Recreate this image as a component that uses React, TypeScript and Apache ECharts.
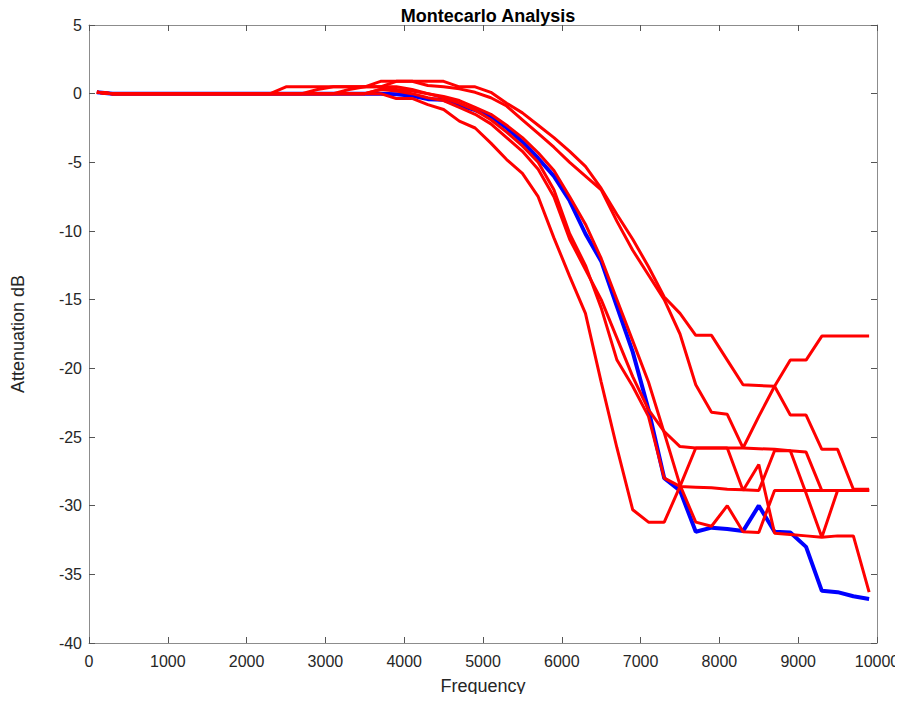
import React, { useEffect, useRef } from "react";
import * as echarts from "echarts";

const frequencies: number[] = Array.from({ length: 50 }, (_, i) => 100 + 200 * i);

const nominal: number[] = [
  0.1, 0, 0, 0, 0, 0, 0, 0, 0, 0,
  0, 0, 0, 0, 0, 0, 0, 0, 0, -0.05,
  -0.15, -0.4, -0.45, -0.85, -1.2, -1.65, -2.5, -3.5, -4.7, -6.0,
  -7.8, -10.2, -12.2, -15.5, -18.8, -23.0, -28.0, -28.9, -31.9, -31.6,
  -31.7, -31.85, -30.0, -31.9, -31.95, -33.0, -36.2, -36.3, -36.6, -36.8,
];

const runB: number[] = [
  0.1, 0, 0, 0, 0, 0, 0, 0, 0, 0,
  0, 0, 0.5, 0.5, 0.5, 0.5, 0.5, 0.5, 0.9, 0.9,
  0.9, 0.9, 0.9, 0.5, 0.5, 0.1, -0.7, -1.4, -2.3, -3.2,
  -4.2, -5.3, -6.9, -8.8, -10.6, -12.6, -14.8, -16.0, -17.6, -17.6,
  -19.4, -21.2, -21.25, -21.3, -23.4, -23.4, -25.9, -25.9, -28.8, -28.8,
];

const runC: number[] = [
  0.1, 0, 0, 0, 0, 0, 0, 0, 0, 0,
  0, 0, 0, 0, 0.3, 0.5, 0.5, 0.5, 0.5, 0.9,
  0.9, 0.6, 0.5, 0.35, 0.1, -0.3, -0.9, -1.9, -2.9, -3.9,
  -5.0, -6.0, -7.0, -9.3, -11.4, -13.2, -15.0, -17.5, -21.2, -23.2,
  -23.35, -25.8, -23.5, -21.3, -19.4, -19.4, -17.65, -17.65, -17.65, -17.65,
];

const runD: number[] = [
  0.1, 0, 0, 0, 0, 0, 0, 0, 0, 0,
  0, 0, 0, 0, 0, 0, 0, 0, 0, -0.35,
  -0.35, -0.8, -1.15, -2.0, -2.5, -3.6, -4.8, -5.8, -7.5, -10.5,
  -13.3, -16.0, -21.0, -25.8, -30.3, -31.2, -31.2, -28.6, -25.8, -25.8,
  -25.8, -28.9, -27.0, -32.0, -32.1, -32.2, -32.3, -32.2, -32.2, -36.3,
];

const runE: number[] = [
  0.1, 0, 0, 0, 0, 0, 0, 0, 0, 0,
  0, 0, 0, 0, 0, 0, 0.3, 0.5, 0.5, 0.5,
  0.3, 0, -0.3, -0.7, -1.2, -1.9, -2.8, -3.8, -5.0, -7.0,
  -10.2, -12.5, -15.6, -19.4, -21.3, -23.5, -28.0, -28.6, -28.65, -28.7,
  -28.8, -28.85, -28.9, -26.0, -26.0, -29.1, -32.3, -28.9, -28.9, -28.9,
];

const runF: number[] = [
  0.1, 0, 0, 0, 0, 0, 0, 0, 0, 0,
  0, 0, 0, 0, 0, 0, 0, 0, 0.3, 0.3,
  0.2, 0, -0.2, -0.5, -1.0, -1.5, -2.3, -3.2, -4.3, -5.6,
  -7.5, -9.5, -12.0, -15.0, -18.0, -21.0, -24.7, -28.5, -31.2, -31.5,
  -30.0, -31.9, -31.95, -28.9, -28.9, -28.9, -28.9, -28.9, -28.9, -28.9,
];

const runH: number[] = [
  0.1, 0, 0, 0, 0, 0, 0, 0, 0, 0,
  0, 0, 0, 0, 0, 0, 0, 0, 0.3, 0.2,
  0, -0.3, -0.5, -1.0, -1.5, -2.2, -3.2, -4.2, -5.5, -7.5,
  -10.6, -12.8, -15.0, -17.8, -20.6, -23.0, -24.6, -25.7, -25.8, -25.8,
  -25.8, -25.8, -25.85, -25.9, -26.0, -26.1, -28.9, -28.9, -28.9, -28.9,
];

const monteCarloRuns: number[][] = [runB, runC, runD, runE, runF, runH];

const FONT = "Liberation Sans, Arial, Helvetica, sans-serif";

export default function App() {
  const ref = useRef<HTMLDivElement>(null);
  useEffect(() => {
    if (!ref.current) return;
    const chart = echarts.init(ref.current, undefined, { renderer: "svg" });
    const pair = (arr: number[]) => arr.map((v, i) => [frequencies[i], v]);
    const series: any[] = [
      {
        type: "line",
        data: pair(nominal),
        xAxisIndex: 0,
        yAxisIndex: 0,
        showSymbol: false,
        lineStyle: { color: "#0000ff", width: 4 },
        z: 2,
      },
      ...monteCarloRuns.map((run) => ({
        type: "line",
        data: pair(run),
        xAxisIndex: 0,
        yAxisIndex: 0,
        showSymbol: false,
        lineStyle: { color: "#ff0000", width: 3 },
        z: 3,
      })),
    ];
    const axisLine = { show: true, onZero: false, lineStyle: { color: "#8c8c8c", width: 1 } };
    const tick = { show: true, inside: true, length: 6, lineStyle: { color: "#555555" } };
    chart.setOption({
      animation: false,
      backgroundColor: "#ffffff",
      title: {
        text: "Montecarlo Analysis",
        left: 483,
        textAlign: "center",
        top: 2,
        textStyle: { fontFamily: FONT, fontSize: 18, fontWeight: "bold", color: "#000000" },
      },
      grid: {
        left: 89,
        right: 26,
        top: 25,
        bottom: 59,
        containLabel: false,
        outerBoundsMode: "none",
      },
      xAxis: [
        {
          type: "value",
          min: 0,
          max: 10000,
          interval: 1000,
          position: "bottom",
          name: "Frequency",
          nameLocation: "middle",
          nameGap: 34,
          nameTextStyle: { fontFamily: FONT, fontSize: 18, color: "#262626" },
          axisLine,
          axisTick: tick,
          axisLabel: {
            fontFamily: FONT,
            fontSize: 16,
            color: "#262626",
            margin: 10,
            formatter: (v: number) => String(v),
          },
          splitLine: { show: false },
        },
        {
          type: "value",
          min: 0,
          max: 10000,
          interval: 1000,
          position: "top",
          axisLine,
          axisTick: tick,
          axisLabel: { show: false },
          splitLine: { show: false },
        },
      ],
      yAxis: [
        {
          type: "value",
          min: -40,
          max: 5,
          interval: 5,
          position: "left",
          name: "Attenuation dB",
          nameLocation: "middle",
          nameGap: 62,
          nameRotate: 90,
          nameTextStyle: { fontFamily: FONT, fontSize: 18, color: "#262626" },
          axisLine,
          axisTick: tick,
          axisLabel: {
            fontFamily: FONT,
            fontSize: 16,
            color: "#262626",
            margin: 7,
            formatter: (v: number) => String(v),
          },
          splitLine: { show: false },
        },
        {
          type: "value",
          min: -40,
          max: 5,
          interval: 5,
          position: "right",
          axisLine,
          axisTick: tick,
          axisLabel: { show: false },
          splitLine: { show: false },
        },
      ],
      series,
    });
    return () => chart.dispose();
  }, []);
  return <div ref={ref} style={{ width: 903, height: 702, margin: -8 }} />;
}
